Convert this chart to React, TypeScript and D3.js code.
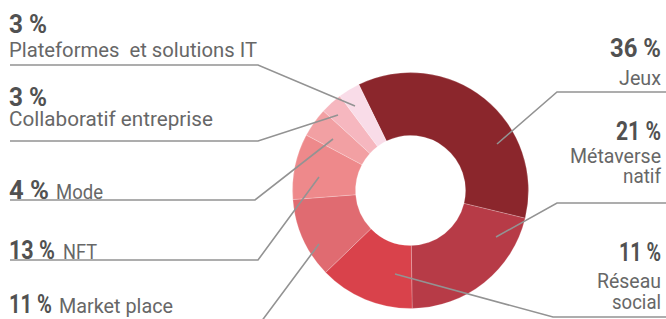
import React from "react";
import * as d3 from "d3";

const categories = ["Jeux", "Métaverse natif", "Réseau social", "Market place", "NFT", "Mode", "Collaboratif entreprise", "Plateformes  et solutions IT"];
const sliceValues = [36, 21, 13, 11, 9, 4, 3, 3];
const labelPercents = ["36 %", "21 %", "11 %", "11 %", "13 %", "4 %", "3 %", "3 %"];
const colors = ["#8b262c", "#b73b47", "#d9424b", "#e06b71", "#ee898b", "#f2a0a3", "#f6b7bf", "#f9dce8"];

const W = 666, H = 319;
const CX = 410.5, CY = 190.5, R_OUT = 118, R_IN = 55;
const START = (-26 * Math.PI) / 180;

type Txt = { t: string; x: number; y: number; w: number; bold?: boolean; anchor?: string };
const layout: { line: [number, number][]; texts: Txt[] }[] = [
  { line: [[497, 144], [557, 92], [666, 92]], texts: [
    { t: labelPercents[0], x: 661, y: 57, w: 51, bold: true, anchor: "end" },
    { t: "Jeux", x: 661, y: 85, w: 42, anchor: "end" }] },
  { line: [[496, 237], [557, 203], [666, 203]], texts: [
    { t: labelPercents[1], x: 661, y: 140, w: 45, bold: true, anchor: "end" },
    { t: "Métaverse", x: 661, y: 163, w: 91, anchor: "end" },
    { t: "natif", x: 661, y: 183, w: 38, anchor: "end" }] },
  { line: [[395, 274], [553, 317], [666, 317]], texts: [
    { t: labelPercents[2], x: 661, y: 261, w: 42, bold: true, anchor: "end" },
    { t: "Réseau", x: 661, y: 288, w: 64, anchor: "end" },
    { t: "social", x: 661, y: 309, w: 49, anchor: "end" }] },
  { line: [[319, 244], [258, 326], [10, 326]], texts: [
    { t: labelPercents[3], x: 9, y: 313, w: 43, bold: true },
    { t: "Market place", x: 59, y: 313, w: 114 }] },
  { line: [[319, 177], [258, 260], [10, 260]], texts: [
    { t: labelPercents[4], x: 9, y: 259, w: 46, bold: true },
    { t: "NFT", x: 63, y: 259, w: 34 }] },
  { line: [[333, 139], [255, 200], [10, 200]], texts: [
    { t: labelPercents[5], x: 9, y: 199, w: 40, bold: true },
    { t: "Mode", x: 56, y: 199, w: 47 }] },
  { line: [[338, 115], [258, 141], [10, 141]], texts: [
    { t: labelPercents[6], x: 9, y: 106, w: 38, bold: true },
    { t: "Collaboratif entreprise", x: 9, y: 126, w: 204 }] },
  { line: [[355, 106], [258, 65], [10, 65]], texts: [
    { t: labelPercents[7], x: 9, y: 33, w: 38, bold: true },
    { t: "Plateformes  et solutions IT", x: 9, y: 57, w: 248 }] },
];

export default function App() {
  const pie = d3.pie<number>().sort(null).value((d) => d)
    .startAngle(START).endAngle(START + 2 * Math.PI);
  const arcs = pie(sliceValues);
  const arc = d3.arc<d3.PieArcDatum<number>>().innerRadius(R_IN).outerRadius(R_OUT);
  const lineGen = d3.line();

  return (
    <svg width={W} height={H} style={{ position: "absolute", left: 0, top: 0, background: "#fff" }}>
      <g transform={`translate(${CX},${CY})`}>
        {arcs.map((a, i) => (
          <path key={i} d={arc(a) || ""} fill={colors[i]} stroke="#fff" strokeOpacity={0.35} strokeWidth={0.6} />
        ))}
      </g>
      {layout.map((l, i) => (
        <g key={i}>
          <path d={lineGen(l.line) || ""} fill="none" stroke="#939393" strokeWidth={1.6} />
          {l.texts.map((t, j) => (
            <text key={j} x={t.x} y={t.y} textAnchor={t.anchor || "start"}
              fontFamily="Roboto, 'Open Sans', sans-serif"
              fontWeight={t.bold ? 700 : 400}
              fontSize={t.bold ? 25 : 20}
              fill={t.bold ? "#515151" : "#676767"}
              textLength={t.w} lengthAdjust="spacingAndGlyphs"
              style={{ whiteSpace: "pre" }}>
              {t.t}
            </text>
          ))}
        </g>
      ))}
    </svg>
  );
}
